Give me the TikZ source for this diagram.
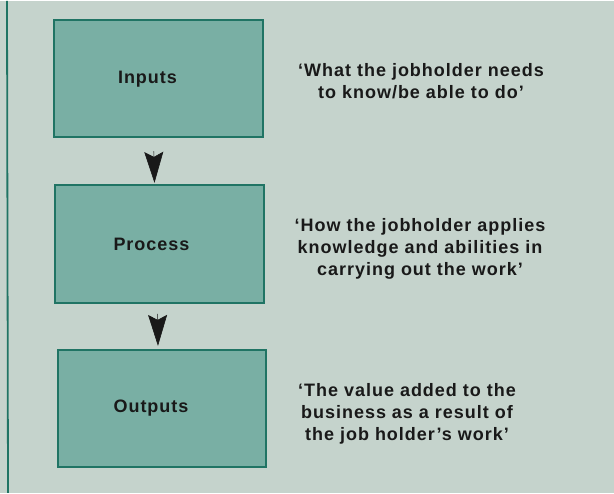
\documentclass[tikz,border=0pt]{standalone}
\usepackage{fontspec}
\newfontfamily\diagfont{Liberation Sans}[LetterSpace=5.5]
\usetikzlibrary{arrows.meta}
\definecolor{paper}{RGB}{197,211,204}
\definecolor{boxfill}{RGB}{121,175,164}
\definecolor{boxedge}{RGB}{32,116,100}
\begin{document}
\begin{tikzpicture}[x=1pt,y=-1pt,
  stage/.style={draw=boxedge, line width=2pt, fill=boxfill, rectangle,
    inner sep=0pt, minimum width=209pt, minimum height=117pt},
  stagelabel/.style={font=\diagfont\bfseries\fontsize{18}{22}\selectfont, text=black!90},
  note/.style={font=\diagfont\bfseries\fontsize{18}{22}\selectfont, align=center,
    text=black!90, inner sep=0pt},
  flow/.style={line width=0.6pt, black!90,
    -{Stealth[length=31pt, width=19pt, inset=5pt]}}
]
% page and the margin rule on the left
\fill[paper] (0,0) rectangle (614,492);
\coordinate (ruletop) at (7,0);
\coordinate (rulebot) at (8,492);
\draw[boxedge, line width=1.8pt] (ruletop) -- (rulebot);

% the three stages
\node[stage, label={[stagelabel, xshift=-11pt]center:Inputs}] (in) at (158.5,78) {};
\node[stage, minimum height=118pt, label={[stagelabel, xshift=-8pt]center:Process}] (pr) at (159.5,243) {};
\node[stage, minimum width=208pt, label={[stagelabel, xshift=-11pt]center:Outputs}] (out) at (162,407.5) {};

% arrowheads between stages
\draw[flow, shorten <=13pt, shorten >=1pt] ([xshift=-5pt]in.south) -- ([xshift=-5pt]pr.north);
\draw[flow, shorten <=10pt, shorten >=3pt] ([xshift=-2pt]pr.south) -- ([xshift=-4pt]out.north);

% descriptions
\node[note] (inote) at (421,80) {‘What the jobholder needs\\to know/be able to do’};
\node[note] (pnote) at (420,247.5) {‘How the jobholder applies\\knowledge and abilities in\\carrying out the work’};
\node[note] (onote) at (407,413) {‘The value added to the\\business as a result of\\the job holder’s work’};
\end{tikzpicture}
\end{document}
